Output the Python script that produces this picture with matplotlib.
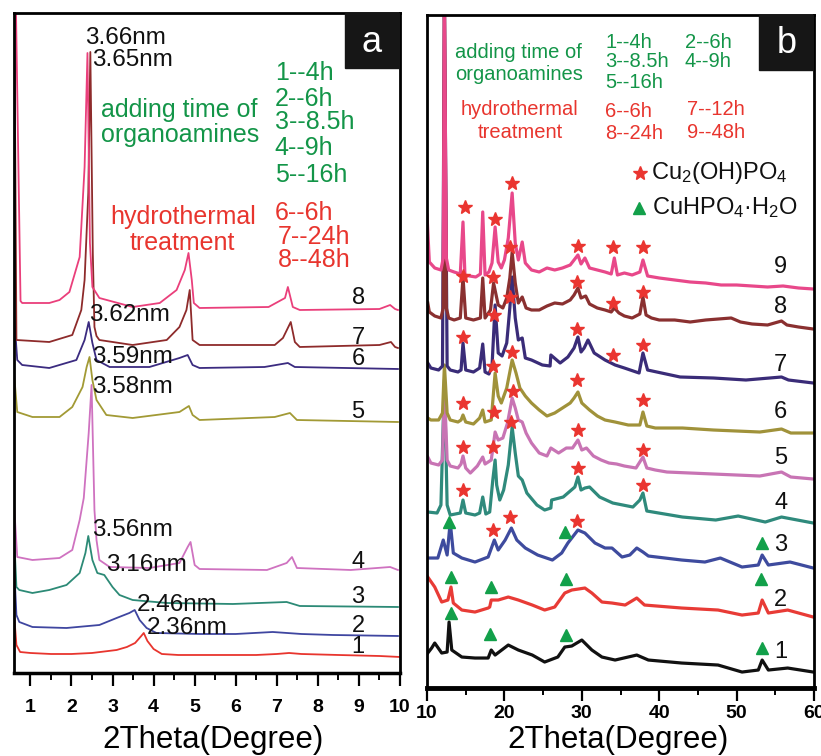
import matplotlib
matplotlib.use('Agg')
import matplotlib.pyplot as plt
from matplotlib.patches import Rectangle

plt.rcParams['font.family'] = ['Liberation Sans', 'DejaVu Sans']
plt.rcParams['mathtext.fontset'] = 'custom'
plt.rcParams['mathtext.rm'] = 'Liberation Sans'
plt.rcParams['mathtext.it'] = 'Liberation Sans:italic'
plt.rcParams['mathtext.bf'] = 'Liberation Sans:bold'

# ---------------- panel a: low-angle patterns (offset intensities) ----------------
a1_x = [0.6, 0.66, 0.75, 1.0, 1.5, 2.0, 2.5, 3.1, 3.35, 3.55, 3.7, 3.76, 3.85, 4.0, 4.2, 4.6, 5.5, 6.5, 7.0, 7.3, 7.6, 8.5, 9.5, 10.0]
a1_y = [60, 28, 21, 20, 19, 19, 20, 23, 26, 30, 37, 40, 32, 24, 19, 18, 18, 18, 19, 20, 19, 18, 17, 16]
a2_x = [0.6, 0.66, 0.73, 1.05, 1.88, 2.68, 3.1, 3.41, 3.54, 3.66, 3.83, 4.07, 5.12, 6.0, 6.9, 7.6, 8.37, 9.95]
a2_y = [110, 58, 51, 46, 45, 48, 55, 60, 63, 53, 45, 40, 39, 39, 41, 39, 38, 37]
a3_x = [0.6, 0.66, 0.73, 1.05, 1.46, 1.88, 2.2, 2.34, 2.41, 2.51, 2.63, 2.8, 3.0, 3.17, 3.49, 4.32, 5.93, 7.24, 7.56, 9.95]
a3_y = [140, 86, 83, 80, 83, 88, 100, 120, 137, 113, 100, 98, 86, 78, 73, 70, 69, 71, 67, 66]
a4_x = [0.6, 0.68, 1.05, 1.71, 2.02, 2.2, 2.3, 2.42, 2.49, 2.56, 2.61, 2.68, 2.93, 3.9, 4.63, 4.83, 4.9, 5.0, 5.12, 6.76, 7.24, 7.37, 7.49, 8.8, 9.76, 9.95]
a4_y = [170, 116, 113, 115, 123, 153, 175, 240, 288, 163, 133, 113, 106, 105, 110, 126, 131, 108, 104, 103, 110, 116, 105, 103, 106, 103]
a5_x = [0.6, 0.68, 1.05, 1.71, 2.02, 2.27, 2.37, 2.44, 2.51, 2.61, 2.85, 3.49, 4.63, 4.86, 4.95, 5.12, 6.95, 7.32, 7.49, 9.95]
a5_y = [300, 261, 256, 256, 266, 286, 306, 316, 293, 273, 258, 255, 261, 267, 258, 253, 256, 260, 253, 251]
a6_x = [0.6, 0.68, 0.8, 1.46, 2.12, 2.32, 2.42, 2.51, 2.61, 2.93, 3.9, 4.63, 4.83, 4.95, 5.12, 6.7, 7.27, 7.44, 9.95]
a6_y = [360, 313, 308, 305, 313, 333, 351, 330, 313, 306, 306, 315, 318, 308, 305, 306, 310, 306, 304]
a7_x = [0.61, 0.66, 1.46, 2.02, 2.24, 2.32, 2.41, 2.46, 2.52, 2.56, 2.61, 2.68, 3.49, 4.32, 4.63, 4.8, 4.88, 4.95, 5.12, 6.95, 7.15, 7.34, 7.44, 7.56, 9.5, 9.78, 9.88, 9.95]
a7_y = [660, 333, 331, 338, 363, 393, 480, 621, 420, 346, 337, 333, 328, 333, 346, 363, 383, 333, 328, 328, 335, 351, 331, 326, 328, 331, 326, 325]
a8_x = [0.65, 0.76, 0.8, 1.46, 1.71, 1.95, 2.2, 2.32, 2.39, 2.45, 2.51, 2.68, 3.49, 4.15, 4.56, 4.76, 4.85, 4.93, 4.98, 5.12, 6.8, 7.2, 7.27, 7.39, 7.56, 9.5, 9.76, 9.88, 9.95]
a8_y = [660, 372, 370, 370, 373, 381, 416, 506, 620, 430, 386, 375, 366, 370, 383, 403, 420, 393, 370, 365, 366, 375, 386, 366, 363, 364, 368, 364, 363]

a_colors = ['#e8352e', '#3f46a0', '#2c8a76', '#cf72c0', '#a29a35', '#3b2b80', '#8e2b2b', '#ea3f7b']
a_curve_labels = ['1', '2', '3', '4', '5', '6', '7', '8']
a_curve_label_y = [26, 47, 76, 111, 261, 314, 335, 375]
a_peak_text = ['3.66nm', '3.65nm', '3.62nm', '3.59nm', '3.58nm', '3.56nm', '3.16nm', '2.46nm', '2.36nm']
a_peak_text_x = [2.32, 2.51, 2.44, 2.49, 2.49, 2.49, 2.85, 3.59, 3.83]
a_peak_text_y = [635, 613, 358, 316, 286, 143, 108, 68, 45]
a_ticks = [1, 2, 3, 4, 5, 6, 7, 8, 9, 10]
a_minor = [1.5, 2.5, 3.5, 4.5, 5.5, 6.5, 7.5, 8.5, 9.5]

# ---------------- panel b: wide-angle patterns ----------------
b1_x = [10.1, 10.6, 11.0, 11.9, 12.6, 12.85, 13.2, 14.5, 16.2, 17.9, 18.3, 18.8, 20.5, 21.8, 23.6, 25.2, 26.9, 27.8, 28.7, 30.0, 31.3, 32.6, 34.3, 37.1, 38.6, 42.9, 47.6, 50.7, 52.8, 53.3, 54.1, 56.6, 59.9]
b1_y = [35, 40, 45, 35, 36, 66, 38, 31, 30, 30, 38, 33, 43, 38, 33, 26, 31, 41, 42, 48, 38, 31, 28, 33, 28, 25, 23, 16, 18, 28, 18, 20, 16]
b2_x = [10.1, 11.0, 11.9, 12.7, 13.1, 13.4, 14.5, 16.2, 17.9, 18.1, 18.3, 19.2, 20.5, 21.8, 23.6, 25.2, 26.5, 27.8, 28.7, 30.4, 31.3, 32.6, 33.9, 35.6, 37.1, 38.1, 42.9, 47.6, 50.7, 52.8, 53.3, 54.1, 56.6, 59.9]
b2_y = [111, 101, 86, 88, 101, 85, 78, 76, 80, 81, 88, 88, 91, 88, 83, 78, 81, 95, 98, 100, 95, 86, 85, 83, 90, 83, 80, 78, 73, 75, 88, 75, 78, 71]
b3_x = [10.1, 11.4, 12.1, 12.6, 13.0, 13.4, 14.5, 16.2, 17.9, 18.7, 19.2, 20.1, 20.9, 21.6, 22.7, 24.3, 26.2, 27.4, 28.2, 29.5, 30.4, 31.7, 33.0, 33.9, 35.2, 36.2, 37.1, 37.9, 38.6, 42.9, 45.9, 47.9, 50.7, 52.8, 53.3, 54.1, 56.9, 59.9]
b3_y = [130, 130, 148, 133, 166, 135, 130, 126, 131, 148, 138, 148, 160, 148, 140, 133, 128, 135, 145, 158, 155, 145, 140, 140, 131, 133, 140, 136, 132, 128, 126, 130, 121, 123, 133, 123, 126, 120]
b4_x = [10.1, 11.3, 11.8, 12.25, 12.6, 13.0, 14.3, 14.65, 15.0, 16.2, 16.8, 17.2, 17.6, 18.1, 18.5, 18.8, 19.0, 19.4, 19.9, 20.5, 21.0, 21.4, 21.8, 22.3, 22.9, 24.2, 25.2, 26.0, 26.1, 27.6, 29.1, 29.5, 29.9, 30.4, 31.0, 32.3, 34.0, 36.6, 37.5, 37.9, 38.4, 43.0, 47.3, 50.2, 53.7, 55.8, 59.9]
b4_y = [176, 175, 183, 308, 183, 173, 175, 188, 175, 173, 175, 191, 174, 176, 208, 228, 203, 188, 198, 223, 261, 235, 212, 208, 195, 183, 178, 180, 188, 191, 201, 211, 198, 200, 201, 191, 185, 181, 188, 195, 177, 171, 168, 172, 166, 171, 165]
b5_x = [10.1, 10.5, 11.5, 12.0, 12.25, 12.6, 13.0, 14.0, 14.4, 14.65, 15.0, 15.6, 16.5, 17.2, 17.5, 18.3, 18.8, 19.2, 19.8, 20.4, 21.0, 21.4, 21.8, 22.3, 22.8, 23.5, 24.5, 25.5, 26.0, 27.0, 28.0, 28.8, 29.5, 30.0, 30.6, 31.5, 32.5, 33.5, 34.5, 35.5, 37.0, 37.9, 38.4, 39.5, 41.0, 44.0, 47.0, 50.0, 53.0, 55.8, 57.0, 59.9]
b5_y = [231, 225, 223, 228, 300, 228, 222, 220, 224, 232, 220, 215, 222, 231, 224, 228, 256, 248, 250, 265, 290, 280, 268, 266, 255, 245, 235, 232, 240, 235, 240, 240, 248, 238, 240, 232, 228, 225, 224, 222, 220, 231, 220, 218, 216, 215, 214, 213, 212, 216, 211, 209]
b6_x = [10.1, 10.5, 11.5, 12.0, 12.25, 12.6, 13.0, 14.0, 14.4, 14.65, 15.0, 16.0, 16.8, 17.2, 17.5, 18.3, 18.8, 19.2, 19.6, 20.3, 21.0, 21.5, 22.0, 22.7, 23.5, 24.5, 25.5, 26.5, 27.5, 28.5, 29.0, 29.5, 30.0, 31.0, 32.0, 33.0, 34.3, 36.0, 37.5, 37.9, 38.4, 39.5, 43.0, 47.0, 50.0, 53.0, 55.8, 57.0, 59.9]
b6_y = [270, 268, 268, 275, 323, 275, 268, 266, 268, 273, 266, 264, 270, 278, 266, 268, 315, 292, 285, 300, 328, 315, 300, 292, 285, 278, 272, 275, 280, 285, 290, 296, 285, 278, 272, 268, 266, 263, 263, 276, 262, 260, 260, 258, 257, 256, 259, 255, 255]
b7_x = [10.1, 10.5, 11.5, 12.0, 12.25, 12.6, 13.0, 14.0, 14.4, 14.65, 15.0, 16.0, 16.8, 17.2, 17.5, 18.0, 18.4, 18.8, 19.2, 19.7, 20.3, 20.7, 21.0, 21.4, 21.8, 22.3, 22.7, 23.5, 24.9, 25.9, 26.0, 27.2, 28.2, 29.0, 29.5, 29.9, 30.3, 30.8, 31.6, 33.0, 34.3, 35.5, 37.4, 37.9, 38.5, 42.7, 47.0, 51.2, 55.8, 56.7, 59.9]
b7_y = [325, 320, 318, 322, 690, 322, 318, 316, 318, 345, 318, 316, 320, 344, 316, 314, 322, 383, 335, 332, 345, 380, 411, 370, 348, 350, 330, 328, 323, 322, 333, 325, 331, 340, 351, 336, 340, 348, 335, 328, 323, 320, 315, 335, 318, 311, 310, 308, 311, 308, 305]
b8_x = [10.1, 10.3, 11.0, 11.8, 12.1, 12.25, 12.5, 12.8, 13.5, 14.3, 14.65, 15.0, 16.0, 16.9, 17.2, 17.5, 18.2, 18.6, 19.2, 19.8, 20.3, 20.7, 21.0, 21.4, 21.8, 22.3, 22.8, 23.5, 24.5, 25.5, 26.5, 27.5, 28.5, 29.0, 29.5, 29.9, 30.5, 31.0, 32.0, 33.0, 33.8, 34.2, 34.8, 35.5, 36.5, 37.5, 37.9, 38.3, 39.0, 40.0, 42.0, 44.0, 46.0, 49.3, 50.5, 52.0, 54.0, 55.8, 56.5, 58.0, 59.9]
b8_y = [385, 376, 372, 370, 380, 690, 380, 370, 368, 370, 411, 370, 368, 370, 410, 370, 378, 405, 383, 380, 390, 410, 436, 405, 385, 391, 380, 378, 378, 382, 385, 384, 388, 393, 400, 390, 392, 384, 380, 378, 376, 380, 375, 372, 370, 374, 391, 373, 370, 368, 368, 366, 368, 370, 366, 364, 363, 367, 363, 361, 359]
b9_x = [10.0, 10.3, 11.0, 11.8, 12.1, 12.25, 12.5, 12.8, 13.5, 14.3, 14.65, 14.9, 15.5, 16.3, 16.9, 17.2, 17.5, 18.0, 18.4, 18.8, 19.2, 19.6, 20.0, 20.5, 21.0, 21.4, 21.8, 22.3, 22.7, 23.5, 24.5, 25.5, 26.5, 27.5, 28.5, 29.0, 29.5, 29.9, 30.4, 31.0, 32.0, 33.0, 33.8, 34.2, 34.6, 35.5, 36.5, 37.5, 37.9, 38.5, 40.0, 42.0, 44.0, 46.0, 48.0, 50.0, 52.0, 54.0, 56.0, 58.0, 59.9]
b9_y = [473, 426, 420, 418, 430, 690, 430, 418, 416, 414, 466, 413, 412, 411, 414, 476, 413, 416, 425, 461, 426, 420, 428, 450, 495, 445, 428, 446, 425, 418, 416, 420, 418, 420, 423, 428, 433, 424, 430, 420, 418, 416, 414, 430, 413, 415, 413, 416, 428, 412, 410, 408, 406, 405, 403, 403, 402, 401, 402, 400, 399]

b_colors = ['#111111', '#e83b36', '#3e4b9e', '#2f8a7c', '#c874b4', '#a0923a', '#3a2c78', '#8a3030', '#e8488a']
b_curve_labels = ['1', '2', '3', '4', '5', '6', '7', '8', '9']
b_curve_label_y = [36, 88, 143, 185, 230, 276, 323, 381, 421]
b_ticks = [10, 20, 30, 40, 50, 60]
b_minor = [15, 25, 35, 45, 55]

# Cu2(OH)PO4 reflections (stars) and CuHPO4.H2O reflections (triangles)
star_x = [14.9, 18.8, 21.0, 29.5, 34.0, 37.9,
          14.65, 18.53, 20.72, 29.4, 34.0, 37.9,
          14.65, 18.66, 20.72, 29.4, 34.0, 37.9,
          14.65, 18.53, 20.98, 29.4, 37.9,
          14.65, 18.66, 21.1, 29.5, 37.9,
          14.65, 18.53, 20.85, 29.5, 37.9,
          18.53, 20.72, 29.4]
star_y = [481, 469, 505, 442, 441, 441,
          412, 411, 441, 406, 385, 396,
          351, 373, 391, 359, 333, 343,
          285, 322, 336, 308, 288,
          241, 276, 297, 258, 238,
          198, 241, 266, 220, 203,
          158, 171, 167]
tri_x = [12.84, 27.83, 53.28, 13.1, 18.27, 27.96, 53.15, 13.1, 18.14, 27.96, 53.28]
tri_y = [166, 156, 145, 111, 101, 109, 109, 75, 54, 53, 40]

green = '#139548'
red = '#e8352e'

fig = plt.figure(figsize=(8.21, 7.56), dpi=100)
axa = fig.add_axes([0.0170, 0.1098, 0.4702, 0.8730])
axb = fig.add_axes([0.5201, 0.0899, 0.4714, 0.8903])

# ---- panel a ----
a_xs = [a1_x, a2_x, a3_x, a4_x, a5_x, a6_x, a7_x, a8_x]
a_ys = [a1_y, a2_y, a3_y, a4_y, a5_y, a6_y, a7_y, a8_y]
for xs, ys, c in zip(a_xs, a_ys, a_colors):
    axa.plot(xs, ys, color=c, lw=1.3)

for t, x, y in zip(a_peak_text, a_peak_text_x, a_peak_text_y):
    axa.text(x, y, t, fontsize=17.5, ha='left', va='center', color='#111111')
for t, y in zip(a_curve_labels, a_curve_label_y):
    axa.text(8.98, y, t, fontsize=17, ha='center', va='center', color='#111111')

axa.text(2.71, 563, 'adding time of', fontsize=18, color=green, ha='left', va='center')
axa.text(2.71, 538, 'organoamines', fontsize=18, color=green, ha='left', va='center')
for t, y in zip(['1--4h', '2--6h', '3--8.5h', '4--9h', '5--16h'], [600, 574, 551, 525, 498]):
    axa.text(6.95, y, t, fontsize=18, color=green, ha='left', va='center')
axa.text(4.71, 456, 'hydrothermal', fontsize=18, color=red, ha='center', va='center')
axa.text(4.71, 430, 'treatment', fontsize=18, color=red, ha='center', va='center')
for t, x, y in zip(['6--6h', '7--24h', '8--48h'], [6.95, 7.03, 7.03], [460, 436, 413]):
    axa.text(x, y, t, fontsize=18, color=red, ha='left', va='center')

axa.add_patch(Rectangle((0.8575, 0.9167), 0.1425, 0.0833, transform=axa.transAxes,
                        color='#161616', zorder=5))
axa.text(0.927, 0.955, 'a', transform=axa.transAxes, color='white', fontsize=26,
         ha='center', va='center', zorder=6)

axa.set_xlim(0.6, 10)
axa.set_ylim(0, 660)

# ---- panel b ----
b_xs = [b1_x, b2_x, b3_x, b4_x, b5_x, b6_x, b7_x, b8_x, b9_x]
b_ys = [b1_y, b2_y, b3_y, b4_y, b5_y, b6_y, b7_y, b8_y, b9_y]
for xs, ys, c in zip(b_xs, b_ys, b_colors):
    axb.plot(xs, ys, color=c, lw=2.3)

axb.plot(star_x, star_y, ls='none', marker='*', ms=10.5, color='#ea3530', mec='#ea3530', zorder=4)
axb.plot(tri_x, tri_y, ls='none', marker='^', ms=8, color='#12a04a', zorder=4)

for t, y in zip(b_curve_labels, b_curve_label_y):
    axb.text(55.7, y, t, fontsize=17, ha='center', va='center', color='#111111')

axb.text(13.6, 635, 'adding time of', fontsize=14.5, color=green, ha='left', va='center')
axb.text(13.6, 613, 'organoamines', fontsize=14.5, color=green, ha='left', va='center')
for t, x, y in zip(['1--4h', '2--6h', '3--8.5h', '4--9h', '5--16h'],
                   [33.0, 43.3, 33.0, 43.3, 33.0], [645, 645, 626, 626, 605]):
    axb.text(x, y, t, fontsize=14.5, color=green, ha='left', va='center')
axb.text(14.3, 578, 'hydrothermal', fontsize=14.5, color=red, ha='left', va='center')
axb.text(22.1, 555, 'treatment', fontsize=14.5, color=red, ha='center', va='center')
for t, x, y in zip(['6--6h', '7--12h', '8--24h', '9--48h'],
                   [33.0, 43.6, 33.0, 43.6], [576, 578, 554, 555]):
    axb.text(x, y, t, fontsize=14.5, color=red, ha='left', va='center')

axb.plot([37.5], [515], ls='none', marker='*', ms=10.5, color='#ea3530')
axb.text(38.9, 515, r'Cu$_\mathrm{2}$(OH)PO$_\mathrm{4}$', fontsize=17, ha='left', va='center', color='#111111')
axb.plot([37.4], [480], ls='none', marker='^', ms=8, color='#12a04a')
axb.text(39.1, 480, r'CuHPO$_\mathrm{4}$·H$_\mathrm{2}$O', fontsize=17, ha='left', va='center', color='#111111')

axb.add_patch(Rectangle((0.858, 0.9183), 0.142, 0.0817, transform=axb.transAxes,
                        color='#161616', zorder=5))
axb.text(0.930, 0.958, 'b', transform=axb.transAxes, color='white', fontsize=26,
         ha='center', va='center', zorder=6)

axb.set_xlim(10, 60)
axb.set_ylim(0, 673)

# ---- axes styling ----
for ax, ticks, minor, pad, bw in [(axa, a_ticks, a_minor, 10, 2.5), (axb, b_ticks, b_minor, 3, 3.5)]:
    ax.set_xticks(ticks)
    ax.set_xticklabels([str(t) for t in ticks], fontweight='bold', fontsize=14)
    ax.set_xticks(minor, minor=True)
    ax.set_yticks([])
    ax.tick_params(axis='x', which='major', direction='out', length=9, width=1.6, pad=pad)
    ax.tick_params(axis='x', which='minor', direction='out', length=5, width=1.4)
    for s in ['left', 'right', 'top']:
        ax.spines[s].set_linewidth(2.0)
    ax.spines['bottom'].set_linewidth(bw)

fig.text(213 / 821, 1 - 740 / 756, '2Theta(Degree)', fontsize=22.5, ha='center', va='center')
fig.text(618 / 821, 1 - 740 / 756, '2Theta(Degree)', fontsize=22.5, ha='center', va='center')

fig.savefig('out.png', dpi=100)
